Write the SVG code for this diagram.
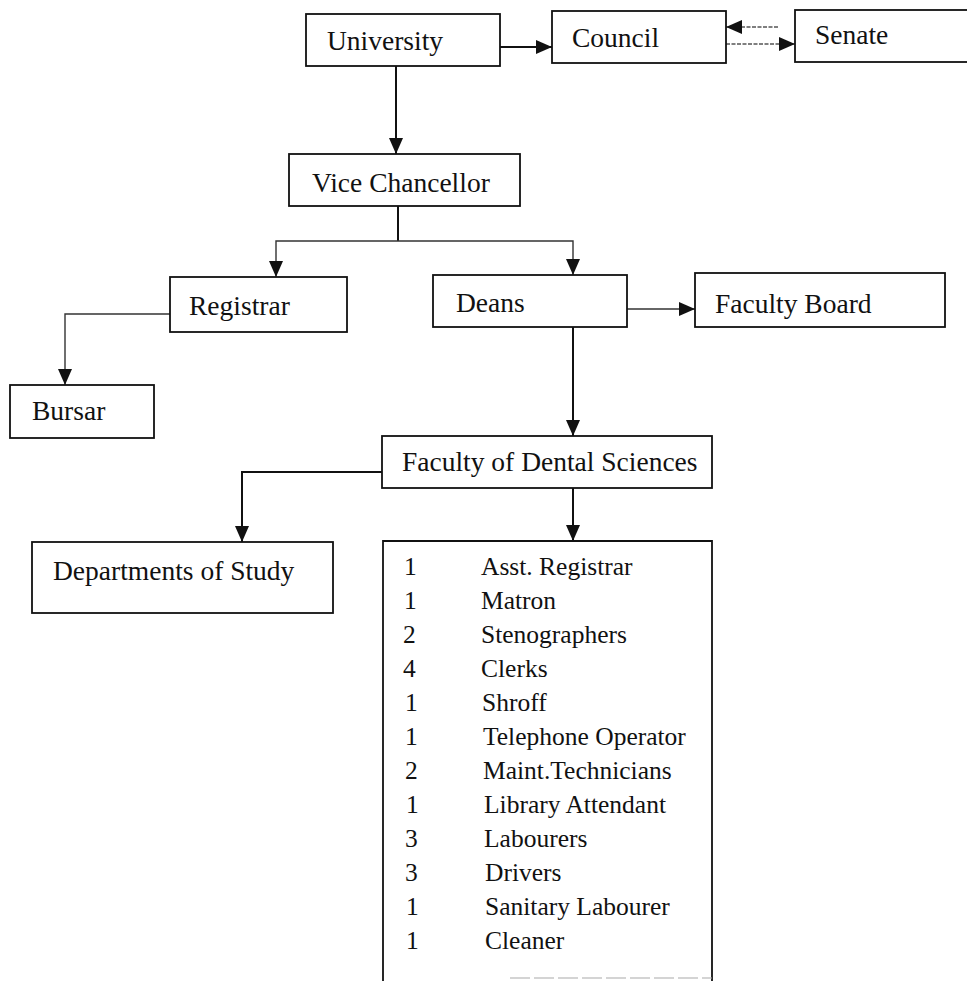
<svg xmlns="http://www.w3.org/2000/svg" width="967" height="981" viewBox="0 0 967 981">
<style>
.box{fill:#fff;stroke:#111;stroke-width:1.8}
.lbl{font-family:"Liberation Serif","Times New Roman",serif;font-size:27.5px;fill:#111}
.item{font-family:"Liberation Serif","Times New Roman",serif;font-size:25.5px;fill:#111}
.c{fill:none;stroke:#111;stroke-width:2}
.t{fill:none;stroke:#333;stroke-width:1.4}
.d{fill:none;stroke:#555;stroke-width:1.3;stroke-dasharray:4 1.5}
</style>
<defs>
<marker id="ah" viewBox="0 0 16 14" refX="16" refY="7" markerWidth="16" markerHeight="14" markerUnits="userSpaceOnUse" orient="auto">
<path d="M0,0 L16,7 L0,14 Z" fill="#111"/>
</marker>
</defs>
<rect width="967" height="981" fill="#fff"/>
<g id="connectors">
<path class="c" d="M500,47 H552" marker-end="url(#ah)"/>
<path class="d" d="M778,27 H726" marker-end="url(#ah)"/>
<path class="d" d="M726,44 H795" marker-end="url(#ah)"/>
<path class="c" d="M396,66 V154" marker-end="url(#ah)"/>
<path class="c" d="M398,206 V241"/>
<path class="t" d="M398,241 H276 V277" marker-end="url(#ah)"/>
<path class="t" d="M398,241 H573 V275" marker-end="url(#ah)"/>
<path class="t" d="M170,314 H65 V385" marker-end="url(#ah)"/>
<path class="t" d="M627,309 H695" marker-end="url(#ah)"/>
<path class="c" d="M573,327 V436" marker-end="url(#ah)"/>
<path class="c" d="M382,472 H242 V542" marker-end="url(#ah)"/>
<path class="c" d="M573,488 V541" marker-end="url(#ah)"/>
</g>
<g id="university"><rect class="box" x="306" y="14" width="194" height="52"/><text class="lbl" x="327" y="50">University</text></g>
<g id="council"><rect class="box" x="552" y="11" width="174" height="52"/><text class="lbl" x="572" y="47">Council</text></g>
<g id="senate"><rect class="box" x="795" y="10" width="180" height="52"/><text class="lbl" x="815" y="44">Senate</text></g>
<g id="vice-chancellor"><rect class="box" x="289" y="154" width="231" height="52"/><text class="lbl" x="312" y="192">Vice Chancellor</text></g>
<g id="registrar"><rect class="box" x="170" y="277" width="177" height="55"/><text class="lbl" x="189" y="315">Registrar</text></g>
<g id="deans"><rect class="box" x="433" y="275" width="194" height="52"/><text class="lbl" x="456" y="312">Deans</text></g>
<g id="faculty-board"><rect class="box" x="695" y="273" width="250" height="54"/><text class="lbl" x="715" y="313">Faculty Board</text></g>
<g id="bursar"><rect class="box" x="10" y="385" width="144" height="53"/><text class="lbl" x="32" y="420">Bursar</text></g>
<g id="faculty-dental"><rect class="box" x="382" y="436" width="330" height="52"/><text class="lbl" x="402" y="471">Faculty of Dental Sciences</text></g>
<g id="departments"><rect class="box" x="32" y="542" width="301" height="71"/><text class="lbl" x="53" y="580">Departments of Study</text></g>
<g id="staff-list">
<path class="box" d="M383,981 V541 H712 V981" fill="none"/>
<path d="M510,978 H712" stroke="#aaa" stroke-width="1.2" stroke-dasharray="20 4"/>
<g class="item">
<text x="404" y="575">1</text><text x="481" y="575">Asst. Registrar</text>
<text x="404" y="609">1</text><text x="481" y="609">Matron</text>
<text x="403" y="643">2</text><text x="481" y="643">Stenographers</text>
<text x="403" y="677">4</text><text x="481" y="677">Clerks</text>
<text x="405" y="711">1</text><text x="482" y="711">Shroff</text>
<text x="405" y="745">1</text><text x="483" y="745">Telephone Operator</text>
<text x="405" y="779">2</text><text x="483" y="779">Maint.Technicians</text>
<text x="406" y="813">1</text><text x="484" y="813">Library Attendant</text>
<text x="405" y="847">3</text><text x="484" y="847">Labourers</text>
<text x="405" y="881">3</text><text x="485" y="881">Drivers</text>
<text x="406" y="915">1</text><text x="485" y="915">Sanitary Labourer</text>
<text x="406" y="949">1</text><text x="485" y="949">Cleaner</text>
</g>
</g>
</svg>
